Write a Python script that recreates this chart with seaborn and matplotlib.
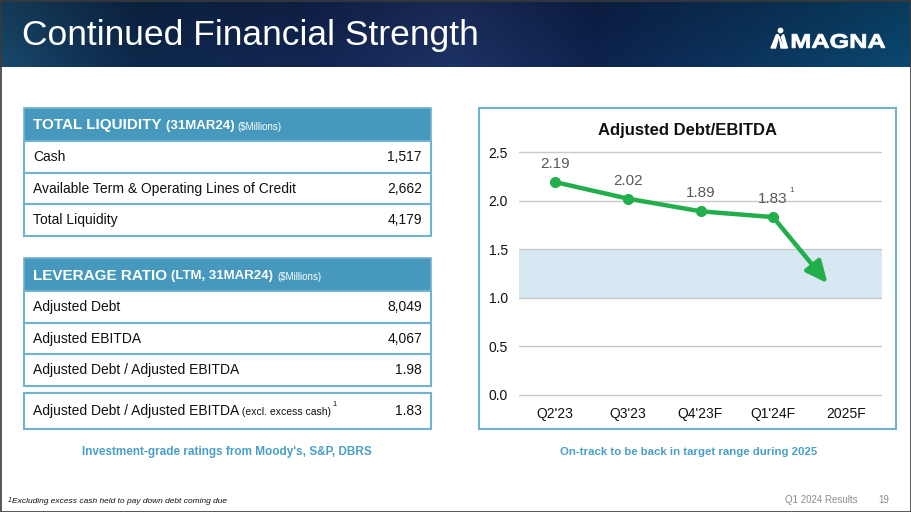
import numpy as np
import matplotlib
matplotlib.use("Agg")
import matplotlib.pyplot as plt
from matplotlib.patches import Rectangle, Polygon, Circle, PathPatch
from matplotlib.textpath import TextPath
from matplotlib.font_manager import FontProperties
from matplotlib.transforms import Affine2D
from matplotlib import font_manager
import pandas as pd
import seaborn as sns

# ---- data ----
slide_title = "Continued Financial Strength"
liquidity_title = [("TOTAL LIQUIDITY ", 11, "bold"), ("(31MAR24) ", 9.5, "bold"), ("($Millions)", 7, "normal")]
liquidity_labels = ["Cash", "Available Term & Operating Lines of Credit", "Total Liquidity"]
liquidity_values = ["1,517", "2,662", "4,179"]
leverage_title = [("LEVERAGE RATIO ", 11, "bold"), ("(LTM, 31MAR24) ", 9.5, "bold"), ("($Millions)", 7, "normal")]
leverage_labels = ["Adjusted Debt", "Adjusted EBITDA", "Adjusted Debt / Adjusted EBITDA"]
leverage_values = ["8,049", "4,067", "1.98"]
excl_label = "Adjusted Debt / Adjusted EBITDA"
excl_note = "(excl. excess cash)"
excl_value = "1.83"

quarters = ["Q2'23", "Q3'23", "Q4'23F", "Q1'24F", "2025F"]
ratio = [2.19, 2.02, 1.89, 1.83]
target_low, target_high = 1.0, 1.5
forecast_end = (3.75, 1.15)   # where the 2025 arrow points

left_caption = "Investment-grade ratings from Moody's, S&P, DBRS"
right_caption = "On-track to be back in target range during 2025"
footnote = "Excluding excess cash held to pay down debt coming due"

# ---- style ----
sns.set_theme(style="white")
plt.rcParams["font.family"] = ["Liberation Sans", "DejaVu Sans"]
names = {f.name for f in font_manager.fontManager.ttflist}
narrow = "Liberation Sans Narrow" if "Liberation Sans Narrow" in names else "Liberation Sans"

head_col = "#4699BC"
border_col = "#72B2CE"
caption_col = "#4A9FC8"
green = "#21AE4B"
band_col = "#D6E8F1"
grid_col = "#C8C8C8"

fig = plt.figure(figsize=(9.11, 5.12), dpi=100)
bg = fig.add_axes([0, 0, 1, 1])
bg.axis("off")

# header banner gradient
xs = np.linspace(0, 1, 400)
stops = [(0.0, (0.09, 0.27, 0.40)), (0.15, (0.05, 0.15, 0.28)), (0.35, (0.07, 0.14, 0.31)),
         (0.5, (0.11, 0.19, 0.38)), (0.65, (0.05, 0.13, 0.29)), (1.0, (0.04, 0.27, 0.42))]
sx = [s[0] for s in stops]
grad = np.stack([np.interp(xs, sx, [s[1][c] for s in stops]) for c in range(3)], axis=-1)
vert = np.linspace(0.85, 1.05, 40)[:, None, None]
img = np.clip(grad[None, :, :] * vert, 0, 1)
bg.imshow(img, extent=[0, 911, 67, 0], aspect="auto", zorder=0)
bg.set_xlim(0, 911)
bg.set_ylim(512, 0)

bg.text(22, 35, slide_title, color="white", fontsize=25.5, va="center", ha="left")

# logo: wide heavy "MAGNA" fitted into its box, plus the mark
tp = TextPath((0, 0), "MAGNA", size=20, prop=FontProperties(family="Liberation Sans", weight="bold"))
ext = tp.get_extents()
lx0, lx1, ly0, ly1 = 792, 885, 34, 48
tr = (Affine2D().translate(-ext.x0, -ext.y0)
      .scale((lx1 - lx0) / ext.width, -(ly1 - ly0) / ext.height)
      .translate(lx0, ly1))
bg.add_patch(PathPatch(tr.transform_path(tp), fc="white", ec="white", lw=0.6))
for pts in ([[771, 48], [775.5, 48], [778.5, 37], [776.5, 34.5]],
            [[777.5, 34.5], [779.5, 37], [781, 48], [784, 48]],
            [[781.5, 37], [783.5, 34.5], [787.5, 48], [784.5, 48]]):
    bg.add_patch(Polygon(pts, closed=True, color="white"))
bg.add_patch(Circle((780.5, 30.5), 2.2, color="white"))

fig.canvas.draw()
renderer = fig.canvas.get_renderer()


def seq_text(x, y, parts, color="white", family=None):
    for s, size, weight in parts:
        t = bg.text(x, y, s, fontsize=size, fontweight=weight, color=color,
                    va="baseline", ha="left", family=family)
        x += t.get_window_extent(renderer).width
    return x


def draw_table(y0, title_parts, labels, values):
    bg.add_patch(Rectangle((24, y0), 407, 33, fc=head_col, ec=border_col, lw=1.2))
    seq_text(33, y0 + 21.5, title_parts)
    for i, (lab, val) in enumerate(zip(labels, values)):
        top = y0 + 33 + i * 31.7
        bg.add_patch(Rectangle((24, top), 407, 31.7, fc="white", ec=border_col, lw=1.5))
        bg.text(33, top + 16, lab, fontsize=10, color="#111111", va="center")
        bg.text(422, top + 16, val, fontsize=10, color="#111111", va="center", ha="right")


draw_table(108, liquidity_title, liquidity_labels, liquidity_values)
draw_table(258, leverage_title, leverage_labels, leverage_values)

bg.add_patch(Rectangle((24, 393), 407, 36, fc="white", ec=border_col, lw=1.5))
xe = seq_text(33, 415, [(excl_label, 10, "normal"), (" " + excl_note, 7.5, "normal")], color="#111111")
bg.text(xe + 1, 406, "1", fontsize=5.5, color="#111111", va="baseline")
bg.text(422, 411, excl_value, fontsize=10, color="#111111", va="center", ha="right")

bg.text(227, 452, left_caption, fontsize=8.5, fontweight="bold", color=caption_col,
        ha="center", va="center")
bg.text(689, 452, right_caption, fontsize=8.2, fontweight="bold", color=caption_col,
        ha="center", va="center")

# chart panel
bg.add_patch(Rectangle((479, 108), 417, 321, fc="white", ec=border_col, lw=1.5))
bg.text(688, 130, "Adjusted Debt/EBITDA", fontsize=12, fontweight="bold", color="#111111",
        ha="center", va="center")

# footer
bg.text(8, 502, "1", fontsize=5, color="#111111", va="baseline", fontstyle="italic", family=narrow)
bg.text(12, 503, footnote, fontsize=6, color="#111111", va="baseline", fontstyle="italic", family=narrow)
bg.text(858, 503, "Q1 2024 Results", fontsize=7, color="#8C8C8C", va="baseline", ha="right")
bg.text(889, 503, "19", fontsize=7, color="#8C8C8C", va="baseline", ha="right")
bg.add_patch(Rectangle((0.5, 0.5), 910, 511, fc="none", ec="#3A3A3A", lw=1.2, zorder=10))

# ---- line chart ----
ppu = 97.2
ylo, yhi = -0.05, 2.55
ax = fig.add_axes([519 / 911, 1 - (395 - ylo * ppu) / 512, 363 / 911, (yhi - ylo) * ppu / 512])
ax.set_facecolor("none")
df = pd.DataFrame({"pos": range(len(ratio)), "ratio": ratio})
ax.axhspan(target_low, target_high, color=band_col, zorder=0, lw=0)
sns.lineplot(data=df, x="pos", y="ratio", ax=ax, color=green, lw=3.2, marker="o",
             markersize=8, markeredgewidth=0, zorder=3)
ax.annotate("", xy=forecast_end, xytext=(len(ratio) - 1, ratio[-1]),
            arrowprops=dict(arrowstyle="-|>,head_length=0.65,head_width=0.3", color=green,
                            lw=3.2, mutation_scale=20, shrinkA=0, shrinkB=0), zorder=3)
for i, v in enumerate(ratio):
    ax.annotate(f"{v:.2f}", (i, v), xytext=(0, 13), textcoords="offset points",
                ha="center", va="center", fontsize=11, color="#595959")
ax.annotate("1", (3, ratio[-1]), xytext=(12, 19), textcoords="offset points",
            ha="left", va="center", fontsize=6, color="#595959")

ax.set_xlim(-0.5, 4.5)
ax.set_ylim(ylo, yhi)
ax.set_yticks([0, 0.5, 1.0, 1.5, 2.0, 2.5])
ax.set_yticklabels([f"{t:.1f}" for t in ax.get_yticks()])
ax.set_xticks(range(len(quarters)))
ax.set_xticklabels(quarters)
ax.grid(axis="y", color=grid_col, lw=1)
ax.set_axisbelow(True)
ax.tick_params(axis="y", length=0, pad=8, labelsize=10, labelcolor="#111111")
ax.tick_params(axis="x", length=0, pad=5, labelsize=10, labelcolor="#111111")
ax.set_xlabel("")
ax.set_ylabel("")
sns.despine(ax=ax, left=True, bottom=True)

fig.savefig("out.png", dpi=100)
